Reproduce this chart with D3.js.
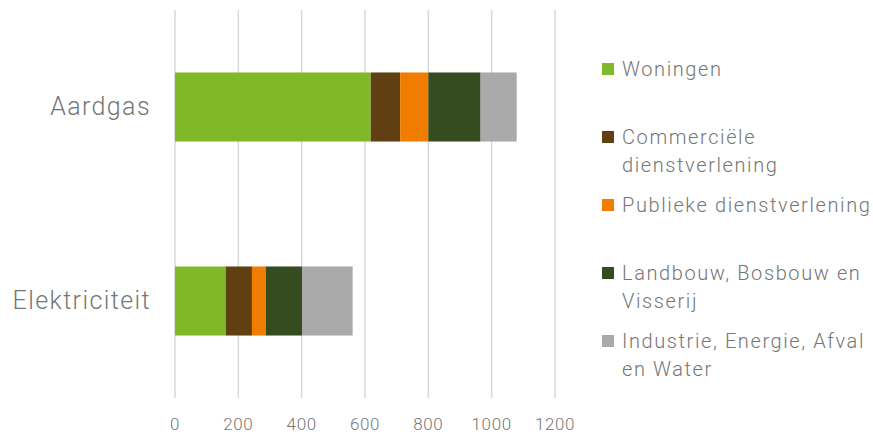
<!DOCTYPE html>
<html lang="nl">
<head>
<meta charset="UTF-8">
<title>Energieverbruik</title>
<script src="https://d3js.org/d3.v7.min.js"></script>
<style>
body { margin: 0; background: #fff; }
svg { display: block; }
text { font-family: "Roboto Slab", Roboto, sans-serif; font-weight: 300; fill: #767676; }
</style>
</head>
<body>
<script>
// data
const categories = ["Aardgas", "Elektriciteit"]
const sectors = ["Woningen", "Commerciële dienstverlening", "Publieke dienstverlening",
    "Landbouw, Bosbouw en Visserij", "Industrie, Energie, Afval en Water"]
const woningen = [618, 160]
const commercieel = [93, 83]
const publiek = [89, 44]
const landbouw = [165, 114]
const industrie = [114, 160]
const xTicks = [0, 200, 400, 600, 800, 1000, 1200]
const colors = ["#80b927", "#603f12", "#f07c00", "#354b20", "#aaaaaa"]
// legend labels broken over lines like the original
const legendLines = [["Woningen"], ["Commerciële", "dienstverlening"], ["Publieke dienstverlening"],
    ["Landbouw, Bosbouw en", "Visserij"], ["Industrie, Energie, Afval", "en Water"]]

const width = 873, height = 436
const svg = d3.select("body").append("svg").attr("width", width).attr("height", height)

const series = [woningen, commercieel, publiek, landbouw, industrie]
const rows = categories.map((c, i) => {
    const r = { cat: c }
    sectors.forEach((s, j) => r[s] = series[j][i])
    return r
})
const stacked = d3.stack().keys(sectors)(rows)

const x = d3.scaleLinear().domain([0, 1200]).range([175, 555])
const y = d3.scaleBand().domain(categories).range([10, 398]).paddingInner(0.644).paddingOuter(0.322)

// gridlines
svg.append("g").selectAll("line").data(xTicks).enter().append("line")
    .attr("x1", d => x(d)).attr("x2", d => x(d))
    .attr("y1", 10).attr("y2", 398)
    .attr("stroke", "#d9d9d9").attr("stroke-width", 1.5)

// bars
svg.append("g").selectAll("g").data(stacked).enter().append("g")
    .attr("fill", (d, i) => colors[i])
    .selectAll("rect").data(d => d).enter().append("rect")
    .attr("x", d => x(d[0]))
    .attr("width", d => x(d[1]) - x(d[0]))
    .attr("y", d => y(d.data.cat))
    .attr("height", y.bandwidth())

// x tick labels
svg.append("g").selectAll("text").data(xTicks).enter().append("text")
    .attr("x", d => x(d)).attr("y", 430)
    .attr("text-anchor", "middle").style("font-size", "17px").style("letter-spacing", "0.6px")
    .text(d => d)

// category labels
svg.append("g").selectAll("text").data(categories).enter().append("text")
    .attr("x", 151).attr("y", d => y(d) + y.bandwidth() / 2 + 8)
    .attr("text-anchor", "end").style("font-size", "25px").style("letter-spacing", "1.4px")
    .text(d => d)

// legend
const legend = svg.append("g").selectAll("g").data(sectors).enter().append("g")
    .attr("transform", (d, i) => `translate(602, ${76 + i * 68})`)
legend.append("rect")
    .attr("x", 0).attr("y", -13).attr("width", 12).attr("height", 12)
    .attr("fill", (d, i) => colors[i])
legend.append("text")
    .attr("x", 20).style("font-size", "20px").style("letter-spacing", "1.6px")
    .selectAll("tspan").data((d, i) => legendLines[i]).enter().append("tspan")
    .attr("x", 20).attr("dy", (d, i) => i === 0 ? 0 : 28)
    .text(d => d)
</script>
</body>
</html>
